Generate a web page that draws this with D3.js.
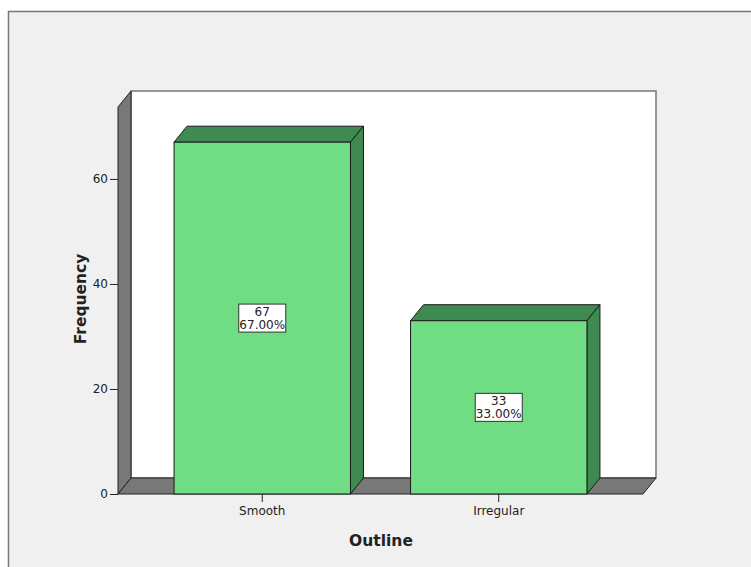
<!DOCTYPE html>
<html>
<head>
<meta charset="utf-8">
<script src="https://cdn.jsdelivr.net/npm/d3@7"></script>
<style>
  body { margin: 0; background: #fff; }
  text { font-family: "DejaVu Sans", Verdana, sans-serif; fill: #222; }
</style>
</head>
<body>
<div id="chart"></div>
<script>
// data
var categories = ["Smooth", "Irregular"];
var counts = [67, 33];
var percents = ["67.00%", "33.00%"];
var yTicks = [0, 20, 40, 60];

var width = 751, height = 567;
var depthX = 13, depthY = 16;
var front = { left: 118, right: 643, bottom: 494, top: 107 };
var fontFam = "'DejaVu Sans', Verdana, sans-serif";

var svg = d3.select("#chart").append("svg")
    .attr("width", width)
    .attr("height", height);

// outer frame
svg.append("rect")
    .attr("x", 8.5).attr("y", 11.5)
    .attr("width", width).attr("height", height)
    .attr("fill", "#f0f0f0")
    .attr("stroke", "#777")
    .attr("stroke-width", 1.5);

var y = d3.scaleLinear()
    .domain([0, 73.7])
    .range([front.bottom, front.top]);

var x = d3.scaleBand()
    .domain(categories)
    .range([front.left, front.right])
    .paddingInner(0.254)
    .paddingOuter(0.237);

var topY = y.range()[1];

// back wall
svg.append("rect")
    .attr("x", front.left + depthX)
    .attr("y", topY - depthY)
    .attr("width", front.right - front.left)
    .attr("height", front.bottom - topY)
    .attr("fill", "#fff")
    .attr("stroke", "#777")
    .attr("stroke-width", 1.5);

// left wall
svg.append("path")
    .attr("d", "M" + front.left + "," + front.bottom +
        "L" + front.left + "," + topY +
        "L" + (front.left + depthX) + "," + (topY - depthY) +
        "L" + (front.left + depthX) + "," + (front.bottom - depthY) + "Z")
    .attr("fill", "#787878")
    .attr("stroke", "#222")
    .attr("stroke-width", 1);

// floor
svg.append("path")
    .attr("d", "M" + front.left + "," + front.bottom +
        "L" + (front.left + depthX) + "," + (front.bottom - depthY) +
        "L" + (front.right + depthX) + "," + (front.bottom - depthY) +
        "L" + front.right + "," + front.bottom + "Z")
    .attr("fill", "#787878")
    .attr("stroke", "#222")
    .attr("stroke-width", 1);

// bars
var bars = svg.selectAll(".bar")
    .data(categories)
    .enter()
    .append("g")
    .attr("class", "bar");

bars.append("path")
    .attr("d", function(d, i) {
        var x0 = x(d), x1 = x(d) + x.bandwidth(), yt = y(counts[i]);
        return "M" + x0 + "," + yt + "L" + (x0 + depthX) + "," + (yt - depthY) +
            "L" + (x1 + depthX) + "," + (yt - depthY) + "L" + x1 + "," + yt + "Z";
    })
    .attr("fill", "#3f8a50")
    .attr("stroke", "#1a1a1a")
    .attr("stroke-width", 1);

bars.append("path")
    .attr("d", function(d, i) {
        var x1 = x(d) + x.bandwidth(), yt = y(counts[i]), yb = y(0);
        return "M" + x1 + "," + yt + "L" + (x1 + depthX) + "," + (yt - depthY) +
            "L" + (x1 + depthX) + "," + (yb - depthY) + "L" + x1 + "," + yb + "Z";
    })
    .attr("fill", "#3f8a50")
    .attr("stroke", "#1a1a1a")
    .attr("stroke-width", 1);

bars.append("rect")
    .attr("x", function(d) { return x(d); })
    .attr("y", function(d, i) { return y(counts[i]); })
    .attr("width", x.bandwidth())
    .attr("height", function(d, i) { return y(0) - y(counts[i]); })
    .attr("fill", "#70dc84")
    .attr("stroke", "#1a1a1a")
    .attr("stroke-width", 1);

// value labels
bars.each(function(d, i) {
    var g = d3.select(this);
    var cx = x(d) + x.bandwidth() / 2;
    var cy = (y(0) + y(counts[i])) / 2;
    g.append("rect")
        .attr("x", cx - 23.5)
        .attr("y", cy - 14)
        .attr("width", 47)
        .attr("height", 28)
        .attr("fill", "#fff")
        .attr("stroke", "#333")
        .attr("stroke-width", 1);
    g.append("text")
        .attr("x", cx).attr("y", cy - 2)
        .attr("text-anchor", "middle")
        .style("font-size", "12px")
        .text(counts[i]);
    g.append("text")
        .attr("x", cx).attr("y", cy + 11)
        .attr("text-anchor", "middle")
        .style("font-size", "12px")
        .text(percents[i]);
});

// y axis
var yAxis = svg.append("g")
    .attr("transform", "translate(" + front.left + ",0)")
    .call(d3.axisLeft(y).tickValues(yTicks).tickSize(8).tickPadding(2));
yAxis.select(".domain").remove();
yAxis.selectAll("line").attr("stroke", "#222");
yAxis.selectAll("text").style("font-size", "12px").style("font-family", fontFam).attr("fill", "#222");

// x axis
var xAxis = svg.append("g")
    .attr("transform", "translate(0," + front.bottom + ")")
    .call(d3.axisBottom(x).tickSize(8).tickPadding(4));
xAxis.select(".domain").remove();
xAxis.selectAll("line").attr("stroke", "#222");
xAxis.selectAll("text").style("font-size", "12px").style("font-family", fontFam).attr("fill", "#222");

// titles
svg.append("text")
    .attr("x", 381).attr("y", 546)
    .attr("text-anchor", "middle")
    .style("font-size", "15.5px")
    .style("font-weight", "bold")
    .text("Outline");

svg.append("text")
    .attr("transform", "translate(86,299) rotate(-90)")
    .attr("text-anchor", "middle")
    .style("font-size", "15.5px")
    .style("font-weight", "bold")
    .text("Frequency");
</script>
</body>
</html>
